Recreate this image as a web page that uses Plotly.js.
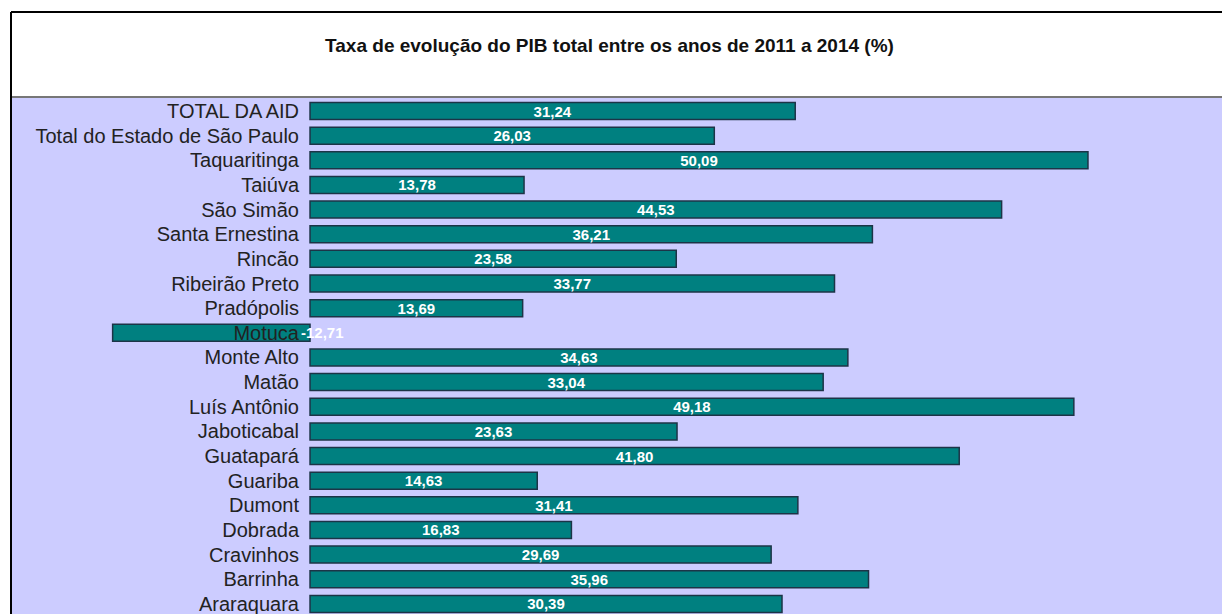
<!DOCTYPE html>
<html>
<head>
<meta charset="utf-8">
<script src="https://cdn.plot.ly/plotly-3.0.1.min.js"></script>
<style>
html,body{margin:0;padding:0;background:#fff;}
#chart{width:1222px;height:614px;}
</style>
</head>
<body>
<div id="chart"></div>
<script>
const categories = [
  "TOTAL DA AID", "Total do Estado de São Paulo", "Taquaritinga", "Taiúva",
  "São Simão", "Santa Ernestina", "Rincão", "Ribeirão Preto", "Pradópolis",
  "Motuca", "Monte Alto", "Matão", "Luís Antônio", "Jaboticabal", "Guatapará",
  "Guariba", "Dumont", "Dobrada", "Cravinhos", "Barrinha", "Araraquara"
];
const values = [
  31.24, 26.03, 50.09, 13.78, 44.53, 36.21, 23.58, 33.77, 13.69,
  -12.71, 34.63, 33.04, 49.18, 23.63, 41.80, 14.63, 31.41, 16.83, 29.69, 35.96, 30.39
];
const labels = values.map(v => v.toFixed(2).replace('.', ','));
const titleText = "Taxa de evolução do PIB total entre os anos de 2011 a 2014 (%)";

const FONT = "'Liberation Sans', Arial, sans-serif";

const trace = {
  type: 'bar',
  orientation: 'h',
  y: categories,
  x: values,
  text: labels.map((t, i) => values[i] < 0 ? '' : t),
  textposition: values.map(v => v < 0 ? 'none' : 'inside'),
  insidetextanchor: 'middle',
  textangle: 0,
  textfont: {family: FONT, size: 15, color: '#ffffff', weight: 'bold'},
  constraintext: 'none',
  marker: {color: '#008080', line: {color: '#1c3447', width: 1.5}},
  width: 0.69,
  hoverinfo: 'x+y'
};

const annotations = [];
values.forEach((v, i) => {
  if (v < 0) {
    annotations.push({
      x: 0, y: categories[i], xref: 'x', yref: 'y',
      text: labels[i], showarrow: false, xanchor: 'left', xshift: -11,
      font: {family: FONT, size: 15, color: '#ffffff', weight: 'bold'}
    });
  }
});

const layout = {
  width: 1222, height: 614,
  margin: {l: 12, r: 0, t: 97, b: 0},
  paper_bgcolor: '#ffffff',
  plot_bgcolor: '#ccccff',
  showlegend: false,
  bargap: 0.3,
  title: {
    text: titleText,
    font: {family: FONT, size: 19, color: '#111111', weight: 'bold'},
    x: (609.5 - 12) / 1210, xanchor: 'center', xref: 'paper',
    y: 1 - 45/614, yanchor: 'middle', yref: 'container'
  },
  xaxis: {
    range: [-19.19, 58.72],
    showgrid: false, zeroline: false, showticklabels: false,
    showline: false, ticks: '', fixedrange: true
  },
  yaxis: {
    type: 'category',
    categoryorder: 'array', categoryarray: categories,
    range: [20.41, -0.568],
    anchor: 'free', position: (310 - 12) / 1210,
    showgrid: false, zeroline: false, showline: false, ticks: '',
    ticklabelstandoff: 11,
    tickfont: {family: FONT, size: 20, color: '#222222'},
    fixedrange: true
  },
  annotations: annotations,
  shapes: [
    {type: 'line', xref: 'paper', yref: 'paper', x0: 0, x1: 1, y0: 1, y1: 1,
     line: {color: '#777777', width: 2}},
    {type: 'line', xref: 'paper', yref: 'paper', x0: -1/1210, x1: -1/1210, y0: 0, y1: 1 + 85/517,
     line: {color: '#000000', width: 2}},
    {type: 'line', xref: 'paper', yref: 'paper', x0: -1/1210, x1: 1, y0: 1 + 85/517, y1: 1 + 85/517,
     line: {color: '#000000', width: 2}}
  ]
};

Plotly.newPlot('chart', [trace], layout, {displayModeBar: false, staticPlot: true});
</script>
</body>
</html>
